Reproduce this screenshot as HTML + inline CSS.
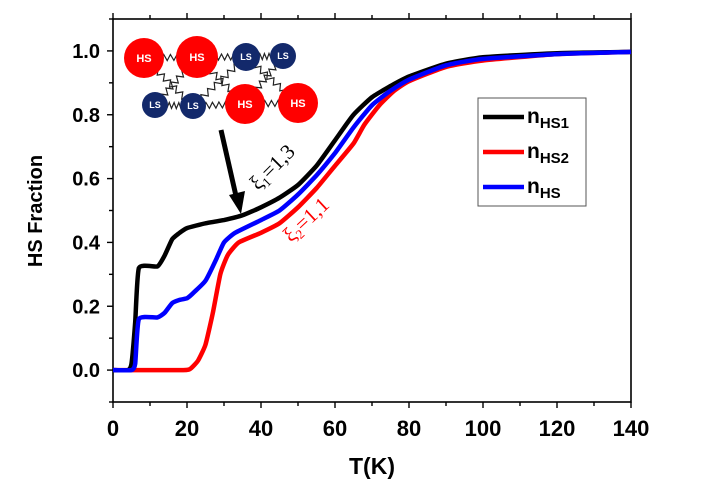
<!DOCTYPE html>
<html><head><meta charset="utf-8"><style>
html,body{margin:0;padding:0;background:#fff;}
svg{display:block;font-family:"Liberation Sans",sans-serif;}
</style></head><body>
<svg id="chart" width="701" height="483" viewBox="0 0 701 483" xmlns="http://www.w3.org/2000/svg">
<g id="plot"></g>
<g>
<line x1="221" y1="130" x2="236" y2="196" stroke="#000" stroke-width="5"/>
<polygon points="229,195 245,191 241,214" fill="#000"/>
</g>
<text x="0" y="0" transform="translate(258,191) rotate(-45)" font-family="Liberation Serif,serif" font-size="21" fill="#000">ξ<tspan font-size="13" dy="4">1</tspan><tspan dy="-4">=1,3</tspan></text>
<text x="0" y="0" transform="translate(291,243) rotate(-43)" font-family="Liberation Serif,serif" font-size="21" fill="#ff0000">ξ<tspan font-size="13" dy="4">2</tspan><tspan dy="-4">=1,1</tspan></text>
<g>
<rect x="478" y="98" width="108" height="108" fill="#fff" stroke="#555" stroke-width="1"/>
<g><line x1="483" y1="117" x2="524" y2="117" stroke="#000" stroke-width="4.5"/><text x="527" y="123" font-size="21" font-weight="bold">n<tspan font-size="15" dy="5">HS1</tspan></text></g>
<g><line x1="483" y1="152" x2="524" y2="152" stroke="#ff0000" stroke-width="4.5"/><text x="527" y="158" font-size="21" font-weight="bold">n<tspan font-size="15" dy="5">HS2</tspan></text></g>
<g><line x1="483" y1="187" x2="524" y2="187" stroke="#0000ff" stroke-width="4.5"/><text x="527" y="193" font-size="21" font-weight="bold">n<tspan font-size="15" dy="5">HS</tspan></text></g>
</g>
</svg>
<script>
const temps1 = [0,4,5,6,7,12,14,16,18,20,25,30,35,40,45,50,55,60,65,70,75,80,90,100,120,140];
const nHS1   = [0,0,0.02,0.15,0.32,0.325,0.36,0.41,0.43,0.445,0.46,0.47,0.485,0.51,0.54,0.58,0.64,0.72,0.80,0.855,0.89,0.92,0.96,0.98,0.993,0.997];
const tempsB = [0,5,6,7,12,14,16,18,20,22,25,28,30,33,40,45,50,55,60,65,70,75,80,90,100,120,140];
const nHS    = [0,0,0.02,0.16,0.165,0.18,0.21,0.22,0.225,0.245,0.28,0.35,0.40,0.43,0.47,0.50,0.55,0.61,0.68,0.76,0.83,0.875,0.91,0.955,0.975,0.99,0.997];
const temps2 = [0,19,21,23,25,27,29,31,34,40,45,50,55,60,65,68,72,76,80,90,100,120,140];
const nHS2   = [0,0,0.005,0.03,0.08,0.18,0.30,0.36,0.40,0.43,0.46,0.51,0.57,0.64,0.71,0.77,0.83,0.875,0.905,0.95,0.97,0.99,0.997];
const xTicks = [0,20,40,60,80,100,120,140];
const yTicks = [0.0,0.2,0.4,0.6,0.8,1.0];

const NS='http://www.w3.org/2000/svg';
const L=113,R=631,T=19,B=402;
const xMin=0,xMax=140,yMin=-0.1,yMax=1.1;
const sx=v=>L+(v-xMin)/(xMax-xMin)*(R-L);
const sy=v=>B-(v-yMin)/(yMax-yMin)*(B-T);
const g=document.getElementById('plot');
function mk(tag,attrs,parent){const e=document.createElementNS(NS,tag);for(const k in attrs)e.setAttribute(k,attrs[k]);(parent||g).appendChild(e);return e;}

const frame=mk('rect',{x:L,y:T,width:R-L,height:B-T,fill:'none',stroke:'#000','stroke-width':1.6});



for(let v=0;v<=140;v+=10){
  const major=v%20===0,len=major?6:4;
  const t1=mk('line',{x1:sx(v),x2:sx(v),y1:B,y2:B+len,stroke:'#000','stroke-width':1.4});
  
  
  const t2=mk('line',{x1:sx(v),x2:sx(v),y1:T,y2:T-len,stroke:'#000','stroke-width':1.4});
  
  
}
xTicks.forEach(v=>{
  const t=mk('text',{x:sx(v),y:436,'text-anchor':'middle','font-size':22,'font-weight':'bold'});
  t.textContent=String(v);
  
  
});
for(let i=-1;i<=11;i++){
  const v=i/10,major=i>=0&&i%2===0,len=major?6:4;
  const t1=mk('line',{x1:L,x2:L-len,y1:sy(v),y2:sy(v),stroke:'#000','stroke-width':1.4});
  
  
}
yTicks.forEach(v=>{
  const t=mk('text',{x:100,y:sy(v)+7,'text-anchor':'end','font-size':20,'font-weight':'bold'});
  t.textContent=v.toFixed(1);
  
  
});
const xt=mk('text',{x:372,y:474,'text-anchor':'middle','font-size':23,'font-weight':'bold'});
xt.textContent='T(K)';


const yt=mk('text',{x:0,y:0,'text-anchor':'middle','font-size':20,'font-weight':'bold',transform:'translate(42,211) rotate(-90)'});
yt.textContent='HS Fraction';



function series(xs,ys,color,name){
  const P=xs.map((x,i)=>[sx(x),sy(ys[i])]);
  let d='M'+P[0][0].toFixed(1)+','+P[0][1].toFixed(1);
  for(let i=0;i<P.length-1;i++){
    const p0=P[Math.max(0,i-1)],p1=P[i],p2=P[i+1],p3=P[Math.min(P.length-1,i+2)];
    const k=1/6*0.5;
    const c1=[p1[0]+(p2[0]-p0[0])*k,p1[1]+(p2[1]-p0[1])*k];
    const c2=[p2[0]-(p3[0]-p1[0])*k,p2[1]-(p3[1]-p1[1])*k];
    d+=' C'+c1[0].toFixed(1)+','+c1[1].toFixed(1)+' '+c2[0].toFixed(1)+','+c2[1].toFixed(1)+' '+p2[0].toFixed(1)+','+p2[1].toFixed(1);
  }
  const p=mk('path',{d:d,fill:'none',stroke:color,'stroke-width':4.5,'stroke-linejoin':'round'});
  
  
}
series(temps2,nHS2,'#ff0000','series-nhs2');
series(temps1,nHS1,'#000000','series-nhs1');
series(tempsB,nHS,'#0000ff','series-nhs');

const inset=mk('g',{});


const springs=[[144,58,197,57],[197,57,246,57],[246,57,283,56],[155,105,193,106],[193,106,245,104],[245,104,298,103],[144,58,193,106],[197,57,155,105],[197,57,245,104],[246,57,193,106],[246,57,298,103],[283,56,245,104]];
springs.forEach(s=>{
  const [x1,y1,x2,y2]=s,n=16;let d='M'+x1+','+y1;
  const dx=x2-x1,dy=y2-y1,len=Math.hypot(dx,dy),nx=-dy/len,ny=dx/len;
  for(let i=1;i<n;i++){const f=i/n,a=(i%2?3:-3);d+=' L'+(x1+dx*f+nx*a).toFixed(1)+','+(y1+dy*f+ny*a).toFixed(1);}
  d+=' L'+x2+','+y2;
  const p=mk('path',{d:d,fill:'none',stroke:'#222','stroke-width':1.2},inset);
  
  
});
const atoms=[[144,58,20,'HS'],[197,57,21,'HS'],[246,57,14,'LS'],[283,56,13,'LS'],[155,105,13,'LS'],[193,106,13,'LS'],[245,104,20,'HS'],[298,103,20,'HS']];
atoms.forEach(a=>{
  const c=mk('circle',{cx:a[0],cy:a[1],r:a[2],fill:a[3]==='HS'?'#ff0000':'#13296b'},inset);
  
  
  const t=mk('text',{x:a[0],y:a[1]+(a[3]==='HS'?4:3),'text-anchor':'middle','font-size':a[3]==='HS'?11:9,'font-weight':'bold',fill:'#fff'},inset);
  t.textContent=a[3];
  
  
});
</script>
</body></html>
